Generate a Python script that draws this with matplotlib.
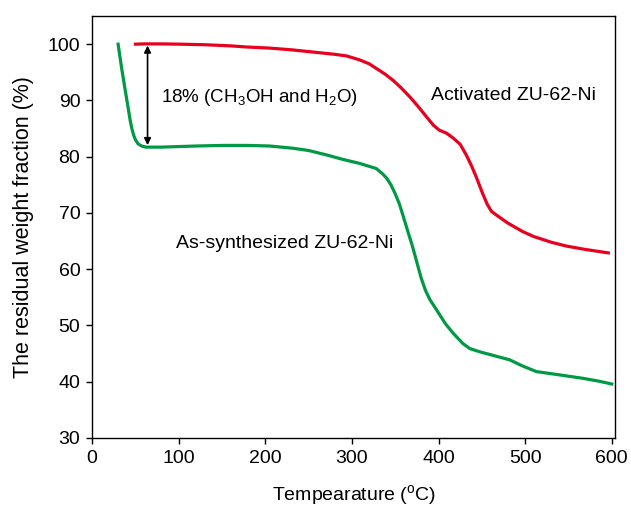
import matplotlib
matplotlib.use('Agg')
import matplotlib.pyplot as plt

plt.rcParams['font.family'] = ['Liberation Sans', 'DejaVu Sans']
plt.rcParams['mathtext.fontset'] = 'custom'
plt.rcParams['mathtext.rm'] = 'Liberation Sans'
plt.rcParams['mathtext.it'] = 'Liberation Sans:italic'
plt.rcParams['mathtext.bf'] = 'Liberation Sans:bold'

# as-synthesized sample: temperature (C) and residual weight (%)
as_syn_temp = [30, 34, 38, 42, 44, 46, 48, 50, 53, 57, 62, 80, 100, 120, 150,
               180, 205, 232, 250, 271, 290, 309, 328, 335, 340, 345, 350,
               355, 360, 365, 370, 375, 380, 385, 390, 398, 408, 417, 428,
               436, 448, 465, 482, 497, 513, 536, 567, 585, 600]
as_syn_wt = [100, 95.8, 92, 88.3, 86.4, 84.9, 83.8, 83.0, 82.3, 81.9, 81.7,
             81.7, 81.8, 81.9, 82, 82, 81.9, 81.5, 81.1, 80.3, 79.5, 78.8,
             77.9, 77, 76.2, 75, 73.4, 71.5, 69, 66.5, 64, 61.2, 58.4, 56.2,
             54.6, 52.7, 50.3, 48.6, 46.8, 45.9, 45.3, 44.6, 43.9, 42.8, 41.8,
             41.3, 40.6, 40.1, 39.6]

# activated sample
act_temp = [50, 60, 80, 101, 130, 160, 178, 205, 230, 255, 280, 294, 309, 320,
            328, 338, 348, 357, 367, 376, 386, 394, 401, 409, 417, 425, 432,
            438, 444, 450, 456, 461, 467, 480, 497, 510, 530, 548, 570, 596]
act_wt = [100, 100.05, 100.05, 100, 99.9, 99.7, 99.5, 99.3, 99, 98.6, 98.2,
          97.9, 97.2, 96.5, 95.7, 94.7, 93.5, 92.2, 90.6, 89, 87.1, 85.6, 84.7,
          84.2, 83.3, 82.2, 80.3, 78.4, 76.2, 73.8, 71.6, 70.3, 69.6, 68.2,
          66.7, 65.8, 64.8, 64.1, 63.5, 62.9]

loss_temp = 64
loss_top = 100
loss_bottom = 81.8

fig = plt.figure(figsize=(6.31, 5.09), dpi=100)
ax = fig.add_axes([0.146, 0.1395, 0.829, 0.829])

ax.plot(as_syn_temp, as_syn_wt, color='#009944', lw=2.3)
ax.plot(act_temp, act_wt, color='#e8001e', lw=2.3)

ax.annotate('', xy=(loss_temp, loss_bottom), xytext=(loss_temp, loss_top),
            arrowprops=dict(arrowstyle='<|-|>', color='black', lw=1.2,
                            mutation_scale=10, shrinkA=1, shrinkB=1))

ax.text(80, 90.6, r'18% (CH$_3$OH and H$_2$O)', fontsize=13.5, va='center')
ax.text(391, 90.8, 'Activated ZU-62-Ni', fontsize=14, va='center')
ax.text(97, 64.5, 'As-synthesized ZU-62-Ni', fontsize=14, va='center')

ax.set_xlim(0, 604)
ax.set_ylim(30, 105)
ax.set_xticks(range(0, 601, 100))
ax.set_yticks(range(30, 101, 10))
ax.tick_params(direction='out', length=4.5, width=1, labelsize=14, pad=4,
               top=False, right=False)
for s in ax.spines.values():
    s.set_linewidth(1)

ax.set_xlabel(r'Tempearature ($^{\rm o}$C)', fontsize=14, labelpad=12)
ax.set_ylabel('The residual weight fraction (%)', fontsize=15.5, labelpad=10)

fig.savefig('out.png', dpi=100)
